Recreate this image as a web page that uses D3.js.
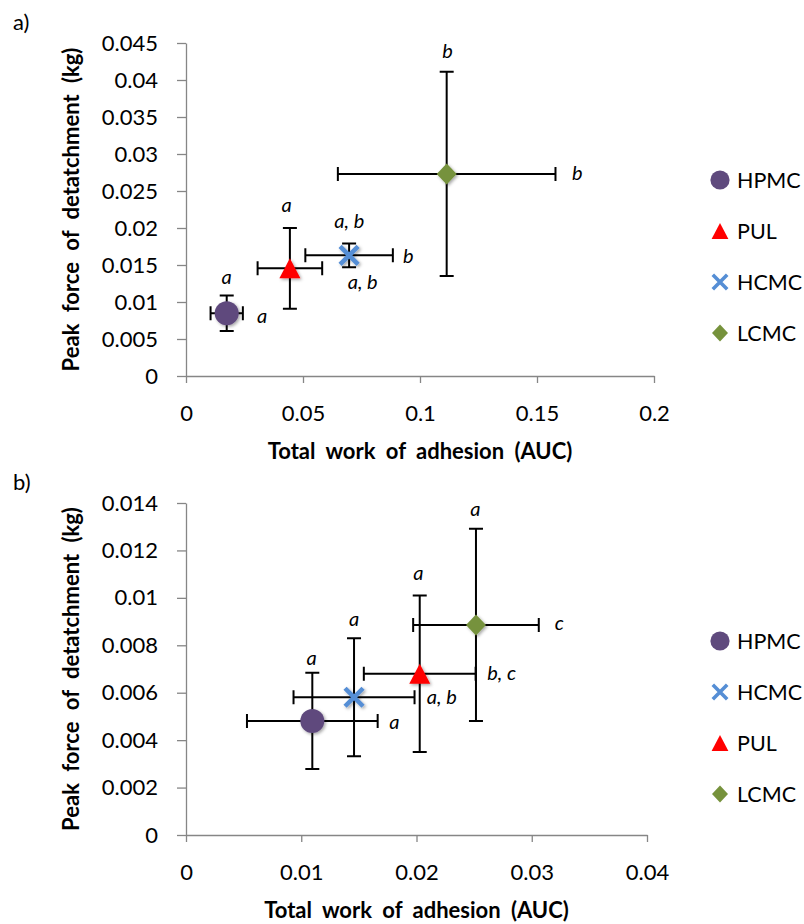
<!DOCTYPE html>
<html>
<head>
<meta charset="utf-8">
<script src="https://cdn.jsdelivr.net/npm/d3@7"></script>
<style>
  body { margin: 0; background: #fff; }
  svg text { font-family: Lato, "Noto Sans", sans-serif; fill: #000; }
</style>
</head>
<body>
<svg id="chart" width="804" height="924"></svg>
<script>
// ---- data: panel a ----
const namesA = ["HPMC", "PUL", "HCMC", "LCMC"]
const aucA = [0.0174, 0.0444, 0.0697, 0.1114]
const forceA = [0.00847, 0.01455, 0.01631, 0.0273]
const aucErrA = [0.0069, 0.0138, 0.0187, 0.0465]
const forceErrA = [0.0024, 0.00545, 0.0016, 0.0138]
const xTicksA = [0, 0.05, 0.1, 0.15, 0.2]
const xTickLabelsA = ["0", "0.05", "0.1", "0.15", "0.2"]
const yTicksA = [0, 0.005, 0.01, 0.015, 0.02, 0.025, 0.03, 0.035, 0.04, 0.045]
const yTickLabelsA = ["0", "0.005", "0.01", "0.015", "0.02", "0.025", "0.03", "0.035", "0.04", "0.045"]
// significance letters, placed at data coordinates
const lettersA = [
  { text: "a", x: 0.0325, y: 0.00824 },
  { text: "a", x: 0.0430, y: 0.0232 },
  { text: "a", x: 0.0174, y: 0.0135 },
  { text: "a, b", x: 0.0698, y: 0.0211 },
  { text: "a, b", x: 0.0755, y: 0.0129 },
  { text: "b", x: 0.0950, y: 0.0163 },
  { text: "b", x: 0.1118, y: 0.0441 },
  { text: "b", x: 0.1672, y: 0.0276 }
]

// ---- data: panel b ----
const namesB = ["HPMC", "HCMC", "PUL", "LCMC"]
const aucB = [0.01096, 0.01458, 0.02028, 0.02516]
const forceB = [0.00481, 0.00581, 0.0068, 0.00886]
const aucErrB = [0.00567, 0.00525, 0.00485, 0.00545]
const forceErrB = [0.00203, 0.00249, 0.0033, 0.00405]
const xTicksB = [0, 0.01, 0.02, 0.03, 0.04]
const xTickLabelsB = ["0", "0.01", "0.02", "0.03", "0.04"]
const yTicksB = [0, 0.002, 0.004, 0.006, 0.008, 0.01, 0.012, 0.014]
const yTickLabelsB = ["0", "0.002", "0.004", "0.006", "0.008", "0.01", "0.012", "0.014"]
const lettersB = [
  { text: "a", x: 0.01091, y: 0.00752 },
  { text: "a", x: 0.01807, y: 0.00482 },
  { text: "a", x: 0.01458, y: 0.00917 },
  { text: "a, b", x: 0.02219, y: 0.00586 },
  { text: "a", x: 0.02016, y: 0.01107 },
  { text: "b, c", x: 0.02739, y: 0.00689 },
  { text: "a", x: 0.0251, y: 0.01378 },
  { text: "c", x: 0.03239, y: 0.0090 }
]

const xTitle = "Total work of adhesion (AUC)"
const yTitle = "Peak force of detatchment (kg)"

const colors = { HPMC: "#5f4a7d", PUL: "#ff0000", HCMC: "#558ed5", LCMC: "#76923c" }
const shapes = { HPMC: "circle", PUL: "triangle", HCMC: "cross", LCMC: "diamond" }

const svg = d3.select("#chart")

const defs = svg.append("defs")
const shadow = defs.append("filter").attr("id", "shadow")
  .attr("x", "-50%").attr("y", "-50%").attr("width", "200%").attr("height", "200%")
shadow.append("feDropShadow")
  .attr("dx", 1.5).attr("dy", 1.5).attr("stdDeviation", 1.6)
  .attr("flood-color", "#000").attr("flood-opacity", 0.35)

// draw one marker into g, centred on 0,0
function marker(g, name, k) {
  const shape = shapes[name]
  const c = colors[name]
  if (shape === "circle") {
    g.append("circle").attr("r", 12 * k).attr("fill", c)
  } else if (shape === "triangle") {
    const w = 21 * k, h = 20 * k
    g.append("path").attr("d", `M0,${-h / 2}L${w / 2},${h / 2}L${-w / 2},${h / 2}Z`).attr("fill", c)
  } else if (shape === "diamond") {
    const w = 10 * k, h = 10.5 * k
    g.append("path").attr("d", `M0,${-h}L${w},0L0,${h}L${-w},0Z`).attr("fill", c)
  } else {
    const s = 9 * k
    g.append("path").attr("d", `M${-s},${-s}L${s},${s}M${-s},${s}L${s},${-s}`)
      .attr("stroke", c).attr("stroke-width", 4.5 * k).attr("fill", "none")
  }
}

function drawPanel(p) {
  const x = d3.scaleLinear().domain(d3.extent(p.xTicks)).range([186, p.right])
  const y = d3.scaleLinear().domain(d3.extent(p.yTicks)).range([p.bottom, p.top])
  const root = svg.append("g")

  root.append("text").attr("x", 13).attr("y", p.top - 13).attr("font-size", 22).text(p.tag)

  // axes
  const yAxis = root.append("g").attr("transform", "translate(186,0)")
    .call(d3.axisLeft(y).tickValues(p.yTicks).tickFormat((d, i) => p.yLabels[i])
      .tickSize(9).tickSizeOuter(0).tickPadding(19))
  const xAxis = root.append("g").attr("transform", `translate(0,${p.bottom})`)
    .call(d3.axisBottom(x).tickValues(p.xTicks).tickFormat((d, i) => p.xLabels[i])
      .tickSize(7).tickSizeOuter(0).tickPadding(22))
  for (const ax of [xAxis, yAxis]) {
    ax.attr("font-family", null).attr("font-size", 22)
    ax.select(".domain").attr("stroke", "#868686").attr("stroke-width", 1.3)
    ax.selectAll(".tick line").attr("stroke", "#868686").attr("stroke-width", 1.3)
    ax.selectAll(".tick text").attr("fill", "#000")
  }

  // titles
  root.append("text")
    .attr("transform", `translate(70,${(p.top + p.bottom) / 2}) rotate(-90)`)
    .attr("text-anchor", "middle").attr("dominant-baseline", "central")
    .attr("font-size", 22).attr("font-weight", "bold").attr("word-spacing", 6)
    .text(yTitle)
  root.append("text")
    .attr("x", (186 + p.right) / 2).attr("y", p.bottom + 74)
    .attr("text-anchor", "middle").attr("dominant-baseline", "central")
    .attr("font-size", 22).attr("font-weight", "bold").attr("word-spacing", 5)
    .text(xTitle)

  // error bars
  const cap = 7
  const bars = root.append("g").attr("stroke", "#000").attr("stroke-width", 2).attr("fill", "none")
  p.names.forEach((n, i) => {
    const cx = x(p.xs[i]), cy = y(p.ys[i])
    const x0 = x(p.xs[i] - p.xErr[i]), x1 = x(p.xs[i] + p.xErr[i])
    const y0 = y(p.ys[i] - p.yErr[i]), y1 = y(p.ys[i] + p.yErr[i])
    bars.append("path").attr("d",
      `M${x0},${cy}H${x1}M${x0},${cy - cap}V${cy + cap}M${x1},${cy - cap}V${cy + cap}` +
      `M${cx},${y0}V${y1}M${cx - cap},${y0}H${cx + cap}M${cx - cap},${y1}H${cx + cap}`)
  })

  // markers
  p.names.forEach((n, i) => {
    const g = root.append("g").attr("transform", `translate(${x(p.xs[i])},${y(p.ys[i])})`)
      .attr("filter", "url(#shadow)")
    marker(g, n, 1)
  })

  // letters
  root.append("g").selectAll("text").data(p.letters).join("text")
    .attr("x", d => x(d.x)).attr("y", d => y(d.y))
    .attr("text-anchor", "middle").attr("dominant-baseline", "central")
    .attr("font-size", 20).attr("font-style", "italic")
    .text(d => d.text)

  // legend
  p.names.forEach((n, i) => {
    const ly = p.legendTop + i * 51
    const g = root.append("g").attr("transform", `translate(720,${ly})`)
    marker(g, n, 0.8)
    root.append("text").attr("x", 737).attr("y", ly).attr("dominant-baseline", "central")
      .attr("font-size", 21.5).text(n)
  })
}

drawPanel({
  tag: "a)", names: namesA, xs: aucA, ys: forceA, xErr: aucErrA, yErr: forceErrA,
  xTicks: xTicksA, xLabels: xTickLabelsA, yTicks: yTicksA, yLabels: yTickLabelsA,
  letters: lettersA, right: 654, top: 43, bottom: 376, legendTop: 180
})
drawPanel({
  tag: "b)", names: namesB, xs: aucB, ys: forceB, xErr: aucErrB, yErr: forceErrB,
  xTicks: xTicksB, xLabels: xTickLabelsB, yTicks: yTicksB, yLabels: yTickLabelsB,
  letters: lettersB, right: 647, top: 503, bottom: 835, legendTop: 641
})
</script>
</body>
</html>
